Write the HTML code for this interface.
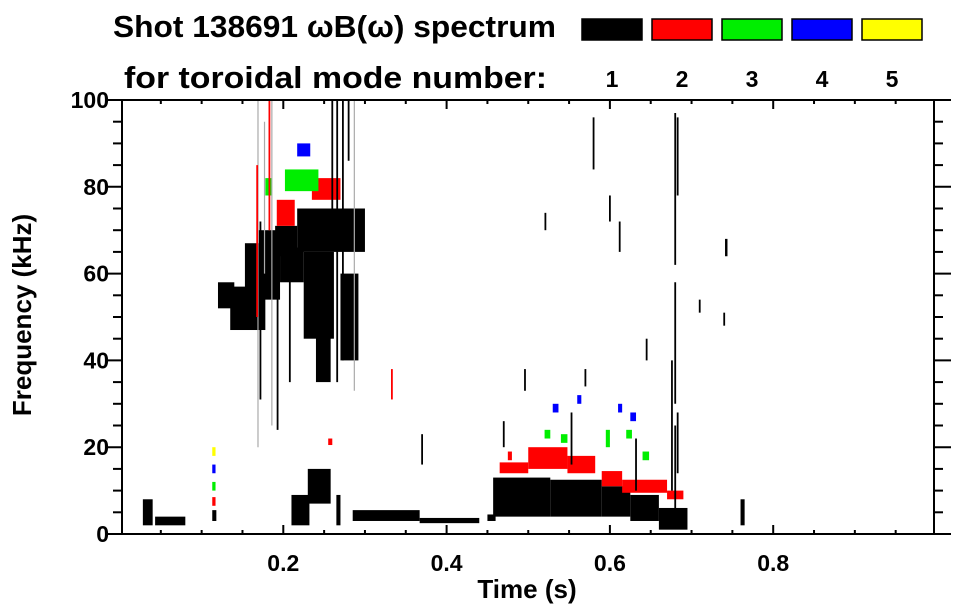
<!DOCTYPE html>
<html><head><meta charset="utf-8">
<style>
html,body{margin:0;padding:0;background:#fff;width:963px;height:615px;overflow:hidden}
svg{display:block;font-family:"Liberation Sans",Arial,sans-serif;font-weight:bold}
</style></head>
<body>
<svg id="chart" width="963" height="615" viewBox="0 0 963 615" xmlns="http://www.w3.org/2000/svg">
<text x="113" y="37" font-size="31" textLength="443" lengthAdjust="spacingAndGlyphs">Shot 138691 ωB(ω) spectrum</text>
<text x="124" y="88" font-size="31" textLength="423" lengthAdjust="spacingAndGlyphs">for toroidal mode number:</text>
<g id="legend"></g>
<g id="marks"></g>
<g id="axes"></g>
<text x="527" y="598" font-size="26" text-anchor="middle">Time (s)</text>
<text transform="translate(31,315) rotate(-90)" font-size="26" text-anchor="middle">Frequency (kHz)</text>
</svg>
<script>
// ---- data ----
const modeLabels = ["1","2","3","4","5"];
const modeColors = ["#000000","#ff0000","#00ee00","#0000ff","#ffff00"];
const xTicks = [0.2,0.4,0.6,0.8];
const yTicks = [0,20,40,60,80,100];
// blobs: time range (s), freq range (kHz), mode (1..5)
const blobT0 = [0.028,0.043,0.120,0.135,0.153,0.190,0.217,0.225,0.240,0.270,0.192,0.235,0.178,0.202,0.217,0.113,0.113,0.113,0.113,0.113,0.210,0.230,0.285,0.367,0.450,0.457,0.527,0.590,0.625,0.660,0.465,0.500,0.548,0.590,0.615,0.670,0.741,0.760,0.265,0.475,0.520,0.540,0.595,0.620,0.640,0.530,0.560,0.610,0.625,0.255,0.170,0.196];
const blobT1 = [0.040,0.080,0.140,0.178,0.196,0.217,0.300,0.262,0.258,0.292,0.214,0.270,0.186,0.243,0.233,0.117,0.117,0.117,0.117,0.118,0.232,0.258,0.367,0.440,0.460,0.527,0.590,0.625,0.660,0.695,0.500,0.548,0.582,0.615,0.670,0.690,0.744,0.765,0.270,0.480,0.527,0.548,0.600,0.627,0.648,0.537,0.565,0.615,0.632,0.260,0.195,0.225];
const blobF0 = [2,2,52,47,54,64,65,45,35,40,71,77,78,79,87,18,14,10,6.5,3,2,7,3,2.5,3,4,4,4,3,1,14,15,14,11,9.5,8,64,2,2,17,22,21,20,22,17,28,30,28,26,20.5,60,58];
const blobF1 = [8,4,58,57,67,71,75,65,52,60,77,82,82,84,90,20,16,12,8.5,5.5,9,15,5.5,3.7,4.5,13,12.5,11,9,6,16.5,20,18,14.5,12.5,10,68,8,9,19,24,23,24,24,19,30,32,30,28,22,70,66];
const blobMode = [1,1,1,1,1,1,1,1,1,1,2,2,3,3,4,5,4,3,2,1,1,1,1,1,1,1,1,1,1,1,2,2,2,2,2,2,1,1,1,2,3,3,3,3,3,4,4,4,4,2,1,1];
// vertical streaks: time (s), freq range (kHz), mode (1..5, 6 = faint)
const streakT = [0.169,0.172,0.186,0.208,0.260,0.266,0.273,0.280,0.287,0.193,0.183,0.177,0.168,0.680,0.680,0.680,0.683,0.683,0.676,0.370,0.333,0.600,0.580,0.612,0.521,0.740,0.710,0.645,0.632,0.553,0.470,0.496,0.570];
const streakF0 = [20,31,25,35,75,35,40,86,33,24,70,60,50,3,30,62,14,78,10,16,31,72,84,65,70,48,51,40,10,16,20,33,34];
const streakF1 = [100,72,100,70,100,100,100,100,100,58,100,95,85,25,58,97,28,96,40,23,38,78,96,72,74,51,54,45,22,28,26,38,38];
const streakMode = [6,1,6,1,1,1,1,1,6,1,2,6,2,1,1,1,1,1,1,1,2,1,1,1,1,1,1,1,1,1,1,1,1];

// ---- axes functions ----
const X0 = 122, X1 = 934, Y0 = 534, Y1 = 100;
function xs(t){ return 120 + t*816.5; }
function ys(f){ return 534 - f*4.34; }
const NS = "http://www.w3.org/2000/svg";
function mk(tag, attrs, parent){ const e=document.createElementNS(NS,tag); for(const k in attrs) e.setAttribute(k,attrs[k]); parent.appendChild(e); return e; }
const marks = document.getElementById('marks');
const axes = document.getElementById('axes');
const legend = document.getElementById('legend');
const colorOf = m => m===6 ? "#aaaaaa" : modeColors[m-1];

for (let i=0;i<blobT0.length;i++){
  const x=xs(blobT0[i]), w=xs(blobT1[i])-x, y=ys(blobF1[i]), h=ys(blobF0[i])-y;
  const r = mk('rect',{x:x,y:y,width:Math.max(w,1.5),height:Math.max(h,1.5),fill:colorOf(blobMode[i])},marks);
  
  
}
for (let i=0;i<streakT.length;i++){
  const l = mk('line',{x1:xs(streakT[i]),x2:xs(streakT[i]),y1:ys(streakF0[i]),y2:ys(streakF1[i]),stroke:colorOf(streakMode[i]),'stroke-width':streakMode[i]===6?1.2:1.8},marks);
  
  
}

// frame
const frame = mk('rect',{x:X0,y:Y1,width:X1-X0,height:Y0-Y1,fill:'none',stroke:'#000','stroke-width':2},axes);


for (let f=0; f<=100; f+=5){
  const major = f%20===0, y=ys(f);
  mk('line',{x1:X0-(major?17:9),x2:X0,y1:y,y2:y,stroke:'#000','stroke-width':2},axes);
  mk('line',{x1:X1,x2:X1+(major?17:9),y1:y,y2:y,stroke:'#000','stroke-width':2},axes);
}
yTicks.forEach(v=>{
  const t = mk('text',{x:X0-13,y:ys(v)+8,'font-size':23,'text-anchor':'end'},axes);
  t.textContent = v;
  
  
});
for (let k=1;k<20;k++){
  const t=k*0.05, major = k%4===0, x=xs(t);
  mk('line',{x1:x,x2:x,y1:Y0,y2:Y0-(major?9:4),stroke:'#000','stroke-width':2},axes);
  mk('line',{x1:x,x2:x,y1:Y1,y2:Y1+(major?9:4),stroke:'#000','stroke-width':2},axes);
}
xTicks.forEach(v=>{
  const t = mk('text',{x:xs(v),y:571,'font-size':23,'text-anchor':'middle'},axes);
  t.textContent = v.toFixed(1);
  
  
});
modeLabels.forEach((lab,i)=>{
  const x = 582 + i*70;
  const r = mk('rect',{x:x,y:19,width:60,height:21,fill:modeColors[i],stroke:'#000','stroke-width':1.5},legend);
  
  
  const t = mk('text',{x:x+30,y:87,'font-size':23,'text-anchor':'middle'},legend);
  t.textContent = lab;
  
  
});
</script>
</body></html>
